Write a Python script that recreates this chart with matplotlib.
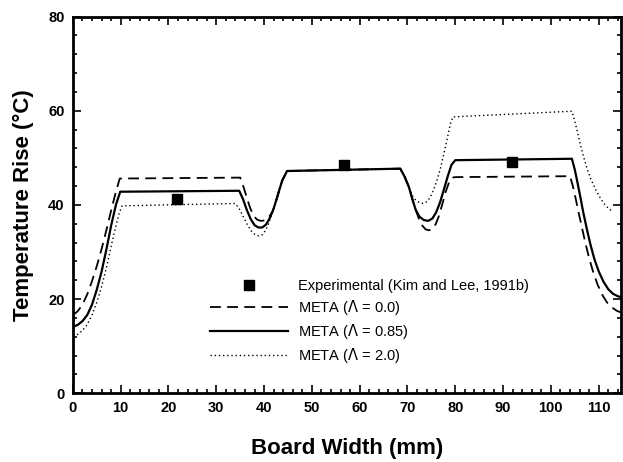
import numpy as np
import matplotlib.pyplot as plt
from matplotlib.ticker import MultipleLocator

plt.rcParams['font.family'] = ['Liberation Sans', 'DejaVu Sans']

# experimental points (Kim and Lee, 1991b)
exp_x = [21.8, 56.8, 91.8]
exp_y = [41.3, 48.4, 49.2]

# META, Lambda = 0.0 (dashed)
l00_x = [0, 1, 2, 3, 4, 5, 6, 7, 8, 9, 9.8,
         35.0, 35.7, 36.4, 37.1, 37.8, 38.5, 39.3, 40.1, 41.0, 41.8, 42.5, 43.8, 44.8,
         68.5, 69.4, 70.3, 71.0, 71.7, 72.4, 73.1, 73.8, 74.5, 75.2, 75.9, 76.6,
         77.3, 78.0, 78.7, 79.4, 80.0,
         104.0, 104.6, 105.2, 105.8, 106.5, 107.2, 108.0, 108.9, 109.8, 110.8,
         111.8, 112.8, 113.8, 115.0]
l00_y = [16.6, 17.4, 18.8, 21.0, 23.8, 27.0, 30.6, 34.6, 38.8, 42.8, 45.6,
         45.8, 43.8, 41.5, 39.3, 37.7, 36.9, 36.6, 36.7, 37.4, 38.6, 40.7, 45.2, 47.2,
         47.7, 46.0, 43.8, 41.3, 39.0, 37.0, 35.6, 34.8, 34.6, 34.9, 35.9, 37.7,
         40.2, 42.8, 44.8, 45.8, 45.9,
         46.1, 44.0, 41.3, 38.4, 35.2, 32.0, 28.7, 25.6, 23.0, 20.8,
         19.2, 18.2, 17.5, 17.0]

# META, Lambda = 0.85 (solid)
l085_x = [0, 1, 2, 3, 4, 5, 6, 7, 8, 9, 9.9,
          34.8, 35.6, 36.4, 37.2, 38.0, 38.8, 39.6, 40.4, 41.2, 42.0, 42.9, 43.8, 44.8,
          68.5, 69.4, 70.3, 71.0, 71.7, 72.5, 73.4, 74.3, 75.2, 76.0, 76.8, 77.6,
          78.4, 79.2, 80.0,
          104.4, 105.0, 105.6, 106.2, 106.8, 107.5, 108.3, 109.1, 110.0, 111.0,
          112.0, 113.0, 114.0, 115.0]
l085_y = [14.1, 14.5, 15.3, 16.6, 18.8, 22.0, 25.8, 30.5, 35.6, 40.0, 42.8,
          43.0, 41.2, 38.9, 37.0, 35.7, 35.2, 35.2, 35.8, 37.2, 39.2, 42.2, 45.2, 47.2,
          47.7, 46.0, 43.8, 41.3, 39.0, 37.5, 36.8, 36.6, 37.1, 38.4, 40.5, 43.2,
          46.0, 48.5, 49.5,
          49.8, 47.5, 44.6, 41.5, 38.3, 35.0, 31.5, 28.5, 25.9, 23.7,
          22.1, 21.1, 20.6, 20.3]

# META, Lambda = 2.0 (dotted)
l20_x = [0, 1, 2, 3, 4, 5, 6, 7, 8, 9, 9.7, 10.3,
         34.0, 34.9, 35.7, 36.5, 37.3, 38.1, 38.9, 39.7, 40.4, 41.0, 41.6, 42.3,
         43.1, 43.8, 44.8,
         68.5, 69.4, 70.3, 71.0, 71.7, 72.5, 73.3, 74.1, 74.8, 75.5, 76.2, 76.9,
         77.6, 78.3, 79.0, 79.5,
         104.4, 105.0, 105.6, 106.2, 106.9, 107.6, 108.4, 109.3, 110.2, 111.1,
         112.0, 112.8]
l20_y = [12.2, 12.5, 13.3, 14.6, 16.6, 19.3, 22.6, 26.6, 31.2, 35.5, 38.3, 39.8,
         40.3, 39.0, 37.4, 35.8, 34.5, 33.7, 33.4, 33.7, 34.7, 36.2, 38.0, 40.3,
         43.2, 45.2, 47.2,
         47.7, 46.0, 43.8, 42.0, 41.0, 40.5, 40.3, 40.7, 41.7, 43.3, 45.3, 47.8,
         50.8, 54.0, 57.3, 58.7,
         59.9, 57.8, 55.3, 52.7, 50.0, 47.6, 45.4, 43.4, 41.7, 40.3,
         39.3, 38.7]

fig = plt.figure(figsize=(6.23, 4.62), dpi=100)
ax = fig.add_axes([0.117, 0.149, 0.88, 0.815])

ax.plot(exp_x, exp_y, 's', color='black', markersize=6.5,
        label='Experimental (Kim and Lee, 1991b)')
ax.plot(l00_x, l00_y, color='black', linestyle=(0, (6, 3.5)), linewidth=1.3,
        label='META ($\\Lambda$ = 0.0)')
ax.plot(l085_x, l085_y, color='black', linestyle='-', linewidth=1.6,
        label='META ($\\Lambda$ = 0.85)')
ax.plot(l20_x, l20_y, color='black', linestyle=(0, (1, 2)), linewidth=1.0,
        label='META ($\\Lambda$ = 2.0)')

ax.set_xlim(0, 114.7)
ax.set_ylim(0, 80)
ax.xaxis.set_major_locator(MultipleLocator(10))
ax.xaxis.set_minor_locator(MultipleLocator(2))
ax.yaxis.set_major_locator(MultipleLocator(20))
ax.yaxis.set_minor_locator(MultipleLocator(4))
ax.tick_params(which='both', direction='in', top=True, right=True, width=1.2)
ax.tick_params(which='major', length=6, labelsize=10.5, pad=6)
ax.tick_params(which='minor', length=3)
for lab in ax.get_xticklabels() + ax.get_yticklabels():
    lab.set_fontweight('bold')
for sp in ax.spines.values():
    sp.set_linewidth(2)

ax.set_xlabel('Board Width (mm)', fontsize=16, fontweight='bold', labelpad=16)
ax.set_ylabel('Temperature Rise (\u00b0C)', fontsize=16, fontweight='bold', labelpad=10)

ax.legend(loc='upper left', bbox_to_anchor=(0.24, 0.318), frameon=False,
          fontsize=10.5, handlelength=5.3, handletextpad=0.7, labelspacing=0.33,
          borderaxespad=0)

fig.savefig('out.png', dpi=100)
